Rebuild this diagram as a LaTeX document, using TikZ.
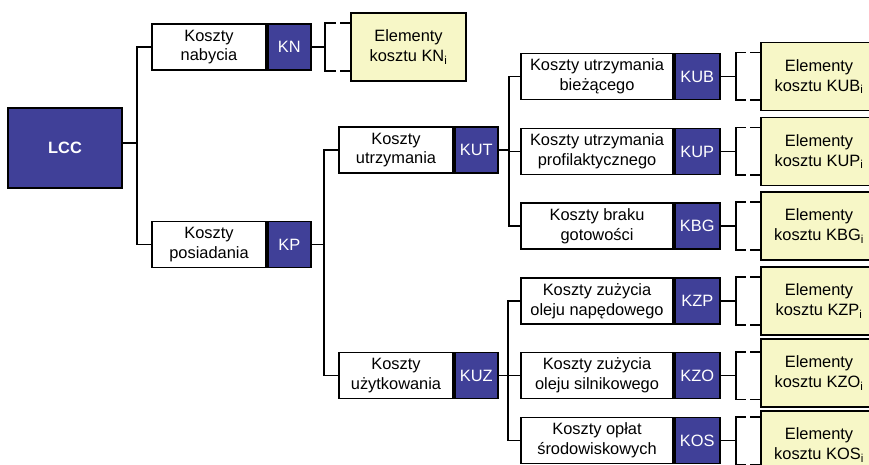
\documentclass[tikz,border=0pt]{standalone}
\usepackage{fontspec}
\setmainfont{Liberation Sans}
\definecolor{myblue}{RGB}{64,64,152}
\definecolor{myyellow}{RGB}{247,247,199}
\newcommand\fsz{\fontsize{16.4}{19.8}\selectfont}
\tikzset{
  conn/.style={line width=1.8pt, line cap=rect},
  wbox/.style={draw=black, line width=1.8pt, fill=white, align=center,
    minimum height=46pt, inner sep=0pt, font=\fsz},
  bbox/.style={wbox, fill=myblue, text=white},
  ybox/.style={draw=black, line width=1.8pt, fill=myyellow, align=center,
    minimum height=68pt, inner sep=0pt, font=\fsz},
}
% #1 blue node, #2 stub length, #3 yellow node, #4 tick length
\newcommand\elbracket[4]{%
  \draw[conn] (#1.east) -- ++(#2,0) coordinate (#1-k);
  \draw[conn] ([xshift=#4]#1-k |- #1.north) -- (#1-k |- #1.north)
     -- (#1-k |- #1.south) -- ([xshift=#4]#1-k |- #1.south);
  \draw[conn] (#3.west |- #1.north) -- ++(-9,0);
  \draw[conn] (#3.west |- #1.south) -- ++(-9,0);
}
\begin{document}
\begin{tikzpicture}[x=1pt,y=-1pt]
\useasboundingbox (0,0) rectangle (869,465);
\clip (0,0) rectangle (869,465);
\fill[white] (0,0) rectangle (869,465);

% root
\node[bbox, line width=2.4pt, minimum width=114pt, minimum height=80pt,
  font=\fsz\bfseries] (lcc) at (65,148) {LCC};

% level 1
\node[wbox, minimum width=114pt] (knw) at (209,47) {Koszty\\nabycia};
\node[bbox, minimum width=43pt, anchor=west] (knb) at (knw.east) {KN};
\node[wbox, minimum width=114pt] (kpw) at (209,244.5) {Koszty\\posiadania};
\node[bbox, minimum width=43pt, anchor=west] (kpb) at (kpw.east) {KP};

% level 2
\node[wbox, minimum width=114pt] (kutw) at (396,150) {Koszty\\utrzymania};
\node[bbox, minimum width=43pt, anchor=west] (kutb) at (kutw.east) {KUT};
\node[wbox, minimum width=114pt] (kuzw) at (396,375.5) {Koszty\\użytkowania};
\node[bbox, minimum width=43pt, anchor=west] (kuzb) at (kuzw.east) {KUZ};

% level 3
\node[wbox, minimum width=152pt] (kubw) at (597,76.5) {Koszty utrzymania\\bieżącego};
\node[bbox, minimum width=45pt, anchor=west] (kubb) at (kubw.east) {KUB};
\node[wbox, minimum width=152pt] (kupw) at (597,151.5) {Koszty utrzymania\\profilaktycznego};
\node[bbox, minimum width=45pt, anchor=west] (kupb) at (kupw.east) {KUP};
\node[wbox, minimum width=152pt] (kbgw) at (597,226) {Koszty braku\\gotowości};
\node[bbox, minimum width=45pt, anchor=west] (kbgb) at (kbgw.east) {KBG};
\node[wbox, minimum width=152pt] (kzpw) at (597,301) {Koszty zużycia\\oleju napędowego};
\node[bbox, minimum width=45pt, anchor=west] (kzpb) at (kzpw.east) {KZP};
\node[wbox, minimum width=152pt] (kzow) at (597,375.5) {Koszty zużycia\\oleju silnikowego};
\node[bbox, minimum width=45pt, anchor=west] (kzob) at (kzow.east) {KZO};
\node[wbox, minimum width=152pt] (kosw) at (597,440.5) {Koszty opłat\\środowiskowych};
\node[bbox, minimum width=45pt, anchor=west] (kosb) at (kosw.east) {KOS};

% yellow element boxes
\node[ybox, minimum width=115pt] (kny) at (408.5,47) {Elementy\\kosztu KN\textsubscript{i}};
\node[ybox, minimum width=116pt] (kuby) at (819,76.5) {Elementy\\kosztu KUB\textsubscript{i}};
\node[ybox, minimum width=116pt] (kupy) at (819,151.5) {Elementy\\kosztu KUP\textsubscript{i}};
\node[ybox, minimum width=116pt] (kbgy) at (819,226) {Elementy\\kosztu KBG\textsubscript{i}};
\node[ybox, minimum width=116pt] (kzpy) at (819,301) {Elementy\\kosztu KZP\textsubscript{i}};
\node[ybox, minimum width=116pt] (kzoy) at (819,373) {Elementy\\kosztu KZO\textsubscript{i}};
\node[ybox, minimum width=116pt] (kosy) at (819,445) {Elementy\\kosztu KOS\textsubscript{i}};

% tree connectors
\coordinate (j1) at (137,143);
\draw[conn] (lcc.east |- j1) -- (j1);
\draw[conn] (knw.west) -| (j1);
\draw[conn] (kpw.west) -| (j1);

\coordinate (j2) at (324,244.5);
\draw[conn] (kpb.east) -- (j2);
\draw[conn] (kutw.west) -| (j2);
\draw[conn] (kuzw.west) -| (j2);

\coordinate (j3) at (509,150);
\draw[conn] (kutb.east) -- (j3);
\draw[conn] (kubw.west) -| (j3);
\draw[conn] (kupw.west) -| (j3);
\draw[conn] (kbgw.west) -| (j3);

\coordinate (j4) at (508,375.5);
\draw[conn] (kuzb.east) -- (j4);
\draw[conn] (kzpw.west) -| (j4);
\draw[conn] (kzow.west) -| (j4);
\draw[conn] (kosw.west) -| (j4);

% brackets
\elbracket{knb}{13}{kny}{10pt}
\elbracket{kubb}{15}{kuby}{9pt}
\elbracket{kupb}{15}{kupy}{9pt}
\elbracket{kbgb}{15}{kbgy}{9pt}
\elbracket{kzpb}{15}{kzpy}{9pt}
\elbracket{kzob}{15}{kzoy}{9pt}
\elbracket{kosb}{15}{kosy}{9pt}
\end{tikzpicture}
\end{document}
